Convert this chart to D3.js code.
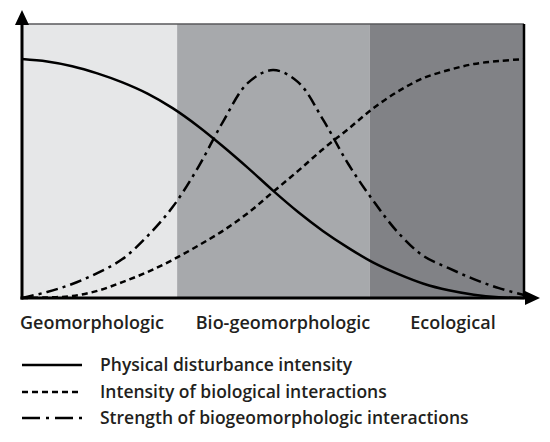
<!DOCTYPE html>
<html>
<head>
<meta charset="utf-8">
<script src="https://cdn.jsdelivr.net/npm/d3@7"></script>
<style>
  body { margin: 0; background: #fff; }
  text { font-family: "Open Sans", sans-serif; font-weight: 600; fill: #231f20; }
</style>
</head>
<body>
<div id="chart"></div>
<script>
// gradient position along the succession (0-100)
const progress = [0, 5, 10, 15, 20, 25, 30, 35, 40, 45, 50, 55, 60, 65, 70, 75, 80, 85, 90, 95, 100];

// relative intensities (0-1)
const physicalDisturbance = [0.872, 0.863, 0.846, 0.820, 0.787, 0.746, 0.693, 0.628, 0.554, 0.475, 0.392,
  0.314, 0.244, 0.183, 0.129, 0.087, 0.052, 0.028, 0.012, 0.003, 0];
const biologicalInteractions = [0, 0.002, 0.007, 0.026, 0.058, 0.095, 0.139, 0.190, 0.245, 0.310, 0.387,
  0.464, 0.544, 0.617, 0.693, 0.755, 0.803, 0.832, 0.854, 0.865, 0.872];
const biogeoInteractions = [0, 0.022, 0.051, 0.091, 0.142, 0.226, 0.332, 0.474, 0.642, 0.785, 0.832,
  0.788, 0.650, 0.489, 0.354, 0.237, 0.153, 0.109, 0.069, 0.036, 0.011];

// phases
const stageNames = ["Geomorphologic", "Bio-geomorphologic", "Ecological"];
const stageStart = [0, 30.9, 69.3];
const stageEnd = [30.9, 69.3, 100];
const stageColors = ["#e6e7e8", "#a7a9ac", "#818286"];

const legendLabels = [
  "Physical disturbance intensity",
  "Intensity of biological interactions",
  "Strength of biogeomorphologic interactions"
];

const width = 550, height = 442;
const plot = { left: 22, right: 524, top: 24, bottom: 298 };

const svg = d3.select('#chart').append('svg')
  .attr('width', width)
  .attr('height', height);

const x = d3.scaleLinear().domain([0, 100]).range([plot.left, plot.right]);
const y = d3.scaleLinear().domain([0, 1]).range([plot.bottom, plot.top]);

// 背景分区
svg.append('g')
  .selectAll('rect')
  .data(stageNames)
  .enter()
  .append('rect')
  .attr('x', (d, i) => x(stageStart[i]))
  .attr('y', plot.top)
  .attr('width', (d, i) => x(stageEnd[i]) - x(stageStart[i]))
  .attr('height', plot.bottom - plot.top)
  .attr('fill', (d, i) => stageColors[i]);

// frame: thin top, black right
svg.append('line')
  .attr('x1', plot.left).attr('x2', plot.right)
  .attr('y1', plot.top).attr('y2', plot.top)
  .attr('stroke', '#58595b').attr('stroke-width', 1.5);
svg.append('line')
  .attr('x1', plot.right).attr('x2', plot.right)
  .attr('y1', plot.top).attr('y2', plot.bottom)
  .attr('stroke', '#000').attr('stroke-width', 2.5);

// curves
const styles = [
  { values: physicalDisturbance, dash: null },
  { values: biologicalInteractions, dash: '6,4' },
  { values: biogeoInteractions, dash: '12,5,3,5' }
];

const line = d3.line()
  .x((d, i) => x(progress[i]))
  .y(d => y(d))
  .curve(d3.curveCatmullRom);

svg.append('g')
  .selectAll('path')
  .data(styles)
  .enter()
  .append('path')
  .attr('d', d => line(d.values))
  .attr('fill', 'none')
  .attr('stroke', '#000')
  .attr('stroke-width', 2.5)
  .attr('stroke-dasharray', d => d.dash);

// axes with arrow heads
svg.append('line')
  .attr('x1', plot.left).attr('x2', plot.left)
  .attr('y1', plot.bottom + 1.5).attr('y2', 20)
  .attr('stroke', '#000').attr('stroke-width', 3);
svg.append('line')
  .attr('x1', plot.left - 1.5).attr('x2', 530)
  .attr('y1', plot.bottom).attr('y2', plot.bottom)
  .attr('stroke', '#000').attr('stroke-width', 3);
svg.append('path')
  .attr('d', `M${plot.left},10 L${plot.left + 7},25 L${plot.left - 7},25 Z`)
  .attr('fill', '#000');
svg.append('path')
  .attr('d', `M540,${plot.bottom} L525,${plot.bottom - 7} L525,${plot.bottom + 7} Z`)
  .attr('fill', '#000');

// 分区标签
svg.append('g')
  .selectAll('text')
  .data(stageNames)
  .enter()
  .append('text')
  .attr('x', (d, i) => [92, 283, 453][i])
  .attr('y', 329)
  .attr('text-anchor', 'middle')
  .attr('font-size', 18)
  .text(d => d);

// legend
const legend = svg.append('g');
const legendY = [365, 392, 418];
legend.selectAll('line')
  .data(styles)
  .enter()
  .append('line')
  .attr('x1', 22).attr('x2', 82)
  .attr('y1', (d, i) => legendY[i]).attr('y2', (d, i) => legendY[i])
  .attr('stroke', '#000')
  .attr('stroke-width', 2.5)
  .attr('stroke-dasharray', (d, i) => i === 2 ? '18,6,3,6' : d.dash);
legend.selectAll('text')
  .data(legendLabels)
  .enter()
  .append('text')
  .attr('x', 100)
  .attr('y', (d, i) => legendY[i] + 6)
  .attr('font-size', 17.5)
  .text(d => d);
</script>
</body>
</html>
